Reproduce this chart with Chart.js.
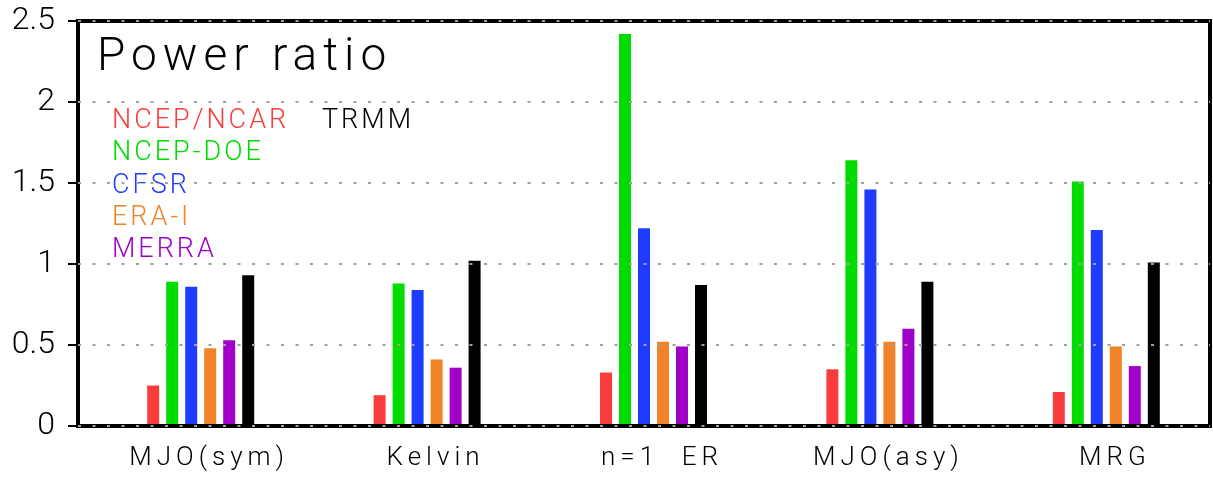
<!DOCTYPE html>
<html>
<head>
<meta charset="utf-8">
<script src="https://cdn.jsdelivr.net/npm/chart.js@4/dist/chart.umd.min.js"></script>
<style>
  html, body { margin: 0; padding: 0; background: #fff; }
  #wrap { width: 1213px; height: 481px; }
</style>
</head>
<body>
<div id="wrap"><canvas id="c" width="1213" height="481"></canvas></div>
<script>
// ---- data ----
const categories = ['MJO(sym)', 'Kelvin', 'n=1  ER', 'MJO(asy)', 'MRG'];
const seriesNames = ['NCEP/NCAR', 'NCEP-DOE', 'CFSR', 'ERA-I', 'MERRA', 'TRMM'];
const ncepNcar = [0.25, 0.19, 0.33, 0.35, 0.21];
const ncepDoe  = [0.89, 0.88, 2.42, 1.64, 1.51];
const cfsr     = [0.86, 0.84, 1.22, 1.46, 1.21];
const eraI     = [0.48, 0.41, 0.52, 0.52, 0.49];
const merra    = [0.53, 0.36, 0.49, 0.60, 0.37];
const trmm     = [0.93, 1.02, 0.87, 0.89, 1.01];
const yTicks   = [0, 0.5, 1, 1.5, 2, 2.5];
const titleText = 'Power ratio';

const seriesColors = ['rgb(250,60,60)', 'rgb(0,220,0)', 'rgb(30,60,255)', 'rgb(240,130,40)', 'rgb(160,0,200)', '#000000'];
const seriesValues = [ncepNcar, ncepDoe, cfsr, eraI, merra, trmm];

const FONT = "Roboto, 'Liberation Sans', sans-serif";

const datasets = [{
  label: '', data: categories.map(() => null), backgroundColor: 'rgba(0,0,0,0)'
}].concat(seriesNames.map((n, i) => ({
  label: n, data: seriesValues[i], backgroundColor: seriesColors[i], borderWidth: 0
})));

const decorPlugin = {
  id: 'decor',
  beforeDraw(chart) {
    chart.ctx.letterSpacing = '5px';
  },
  afterDatasetsDraw(chart) {
    const ctx = chart.ctx;
    const a = chart.chartArea;
    ctx.letterSpacing = '0px';
    ctx.save();
    ctx.strokeStyle = '#000';
    ctx.lineWidth = 4;
    ctx.strokeRect(a.left, a.top, a.right - a.left, a.bottom - a.top);
    // title
    ctx.fillStyle = '#000';
    ctx.textAlign = 'left';
    ctx.textBaseline = 'alphabetic';
    ctx.font = '300 46px ' + FONT;
    ctx.letterSpacing = '6px';
    ctx.fillText(titleText, a.left + 19, a.top + 49);
    // legend
    ctx.font = '300 27px ' + FONT;
    ctx.letterSpacing = '3px';
    for (let i = 0; i < 5; i++) {
      ctx.fillStyle = seriesColors[i];
      ctx.fillText(seriesNames[i], a.left + 34, a.top + 107 + 32.3 * i);
    }
    ctx.fillStyle = seriesColors[5];
    ctx.fillText(seriesNames[5], a.left + 244, a.top + 107);
    ctx.restore();
    ctx.letterSpacing = '0px';
  }
};

new Chart(document.getElementById('c'), {
  type: 'bar',
  data: { labels: categories, datasets: datasets },
  options: {
    responsive: false,
    animation: false,
    layout: { padding: { top: 21, right: 3, bottom: 0, left: 0 } },
    categoryPercentage: 0.5875,
    barPercentage: 0.6316,
    plugins: { legend: { display: false }, tooltip: { enabled: false }, title: { display: false } },
    scales: {
      x: {
        type: 'category',
        grid: { display: false, drawTicks: false },
        border: { display: false },
        ticks: {
          color: '#000',
          font: { family: FONT, size: 26, weight: '300' },
          padding: 17,
          labelOffset: 18,
          autoSkip: false,
          maxRotation: 0,
          minRotation: 0
        },
        afterFit(scale) { scale.height = 55; scale.paddingLeft = 0; scale.paddingRight = 0; }
      },
      y: {
        min: 0,
        max: 2.5,
        afterBuildTicks(scale) { scale.ticks = yTicks.map(v => ({ value: v })); },
        grid: {
          z: 1,
          color: '#a0a0a0',
          lineWidth: 2,
          drawTicks: true,
          tickLength: 10,
          tickColor: '#000',
          tickWidth: 2,
          tickBorderDash: []
        },
        border: { display: false, dash: [3, 11.5] },
        ticks: {
          z: 1,
          color: '#000',
          font: { family: FONT, size: 32, weight: '300' },
          padding: 13,
          callback: (v) => String(v)
        },
        afterFit(scale) { scale.width = 78; scale.paddingTop = 0; scale.paddingBottom = 0; }
      }
    }
  },
  plugins: [decorPlugin]
});
</script>
</body>
</html>
